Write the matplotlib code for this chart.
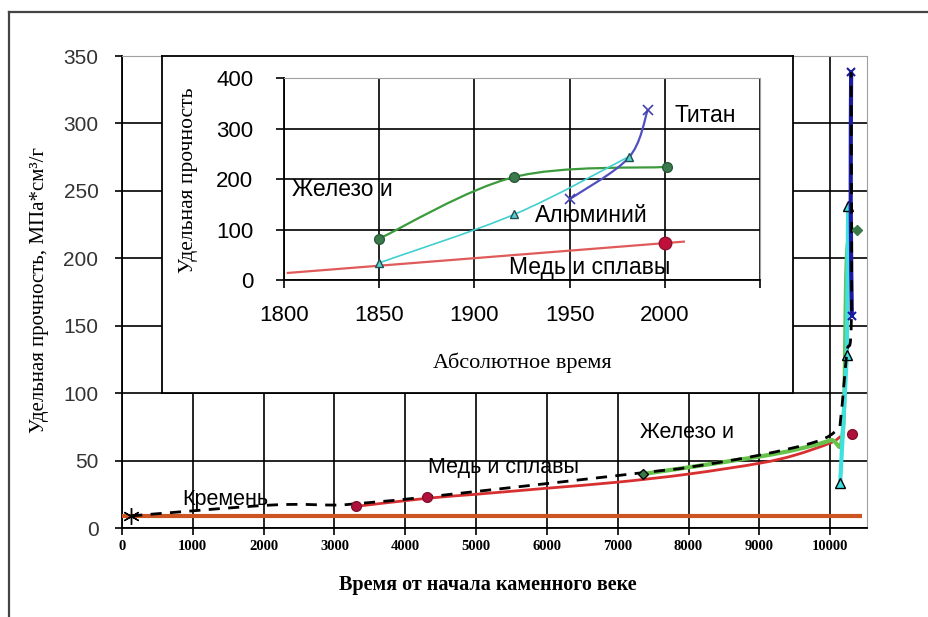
import numpy as np
import matplotlib.pyplot as plt
from matplotlib.path import Path
from matplotlib.patches import PathPatch
from matplotlib.lines import Line2D

# ---- main chart: years from the start of the stone age ----
flint_x = [0, 10450]
flint_y = [9, 9]

trend_x = [130, 2100, 3000, 3300, 4300, 7350, 8000, 9000, 9800, 10100, 10150, 10235, 10300, 10296]
trend_y = [9, 17, 17, 18, 23, 41, 45, 54, 64, 73, 82, 130, 157, 338]

copper_x = [3300, 4300, 5000, 6000, 7000, 8000, 9000, 9500, 10000, 10150]
copper_y = [16, 22, 25, 29.5, 34, 40, 48, 54, 63, 68]
copper_pts_x = [3300, 4300, 10306]
copper_pts_y = [16, 23, 70]

iron_x = [7350, 8000, 9000, 9500, 10000, 10180, 10240, 10381]
iron_y = [40, 45, 53, 58, 65, 72, 205, 221]

alu_x = [10141, 10235, 10254]
alu_y = [33, 128, 239]

ti_x = [10306, 10290, 10296]
ti_y = [157, 240, 338]

main_labels = [("Кремень", 847, 21), ("Медь и сплавы", 4322, 45), ("Железо и", 7316, 71)]

# ---- inset: absolute time ----
in_iron_x = [1850, 1921, 2001]
in_iron_y = [82, 204, 224]
in_alu_x = [1850, 1921, 1981]
in_alu_y = [34, 130, 244]
in_ti_x = [1950, 1981, 1991]
in_ti_y = [160, 242, 336]
in_cu_x = [1802, 2010]
in_cu_y = [14, 76]
in_cu_pt = (2000, 74)
inset_labels = [("Железо и", 1804, 180), ("Алюминий", 1932, 128),
                ("Медь и сплавы", 1918, 24), ("Титан", 2005, 326)]


def smooth(ax, xs, ys, **kw):
    # Excel-like smoothed line (Catmull-Rom as cubic bezier)
    p = np.column_stack([xs, ys]).astype(float)
    p = np.vstack([p[0], p, p[-1]])
    verts = [p[1]]
    codes = [Path.MOVETO]
    for i in range(1, len(p) - 2):
        c1 = p[i] + (p[i + 1] - p[i - 1]) / 6
        c2 = p[i + 1] - (p[i + 2] - p[i]) / 6
        verts += [c1, c2, p[i + 1]]
        codes += [Path.CURVE4] * 3
    ax.add_patch(PathPatch(Path(verts, codes), fill=False, **kw))


sans = 'Liberation Sans'
serif = 'Liberation Serif'

fig = plt.figure(figsize=(9.29, 6.17), dpi=100)

# outer frame (top and left edges visible)
fig.add_artist(Line2D([9 / 929, 1], [1 - 12 / 617] * 2, color='#444444', lw=1.6))
fig.add_artist(Line2D([9 / 929] * 2, [0, 1 - 12 / 617], color='#444444', lw=1.6))

ax = fig.add_axes([122 / 929, 1 - 528 / 617, (867 - 122) / 929, (528 - 56) / 617])
ax.set_xlim(0, 10520)
ax.set_ylim(0, 350)
ax.set_xticks(range(0, 10001, 1000))
ax.set_yticks(range(0, 351, 50))
ax.grid(True, color='black', lw=1.2)
ax.set_axisbelow(True)
for s in ['top', 'right']:
    ax.spines[s].set_color('#a0a0a0')
for s in ['left', 'bottom']:
    ax.spines[s].set_color('black')
    ax.spines[s].set_linewidth(1.3)
ax.tick_params(axis='y', direction='out', length=5, width=1.2, pad=12, labelsize=15, labelcolor='#333333')
ax.tick_params(axis='x', direction='out', length=5, width=1.2, pad=4)
for t in ax.get_yticklabels():
    t.set_family(sans)
for t in ax.get_xticklabels():
    t.set_family(serif)
    t.set_fontweight('bold')
    t.set_fontsize(10.5)

ax.plot(flint_x, flint_y, color='#cc5522', lw=3, solid_capstyle='butt', zorder=3)
smooth(ax, copper_x, copper_y, edgecolor='#d83030', lw=2, zorder=3)
smooth(ax, iron_x, iron_y, edgecolor='#66c24a', lw=3, zorder=3)
ax.plot(alu_x, alu_y, color='#3fe0e0', lw=3, marker='^', ms=7, mfc='#3fe0e0', mec='black', zorder=4)
smooth(ax, ti_x, ti_y, edgecolor='#1a1aa0', lw=3, zorder=4)
ax.plot([ti_x[0], ti_x[-1]], [ti_y[0], ti_y[-1]], ls='none', marker='x', ms=6, mec='#1a1aa0', mew=1.5, zorder=5)
smooth(ax, trend_x, trend_y, edgecolor='black', lw=2, linestyle=(0, (4, 3)), zorder=5)
ax.plot(trend_x[0], trend_y[0], marker=(6, 2, 0), ms=12, mec='black', mew=1, ls='none', zorder=5)
ax.plot(copper_pts_x, copper_pts_y, ls='none', marker='o', ms=7, mfc='#b0103a', mec='#801030', zorder=6)
ax.plot(iron_x[0], iron_y[0], marker='D', ms=5, mfc='#3a7a4a', mec='black', ls='none', zorder=6)
ax.plot(iron_x[-1], iron_y[-1], marker='D', ms=5, mfc='#3a7a4a', mec='#3a7a4a', ls='none', zorder=6)
for txt, x, y in main_labels:
    ax.text(x, y, txt, family=sans, fontsize=15.5, va='center', ha='left', zorder=7)

fig.text(40 / 929, 1 - 290 / 617, 'Удельная прочность, МПа*см³/г', rotation=90,
         family=serif, fontsize=15, ha='center', va='center')
fig.text(488 / 929, 1 - 585 / 617, 'Время от начала каменного веке',
         family=serif, fontsize=14.5, fontweight='bold', ha='center', va='center')

# inset chart area
box = fig.add_axes([162 / 929, 1 - 393 / 617, (793 - 162) / 929, (393 - 56) / 617])
box.set_xticks([])
box.set_yticks([])
for s in box.spines.values():
    s.set_color('black')
    s.set_linewidth(1.3)

ins = fig.add_axes([284 / 929, 1 - 280 / 617, 476 / 929, 202 / 617])
ins.set_xlim(1800, 2050)
ins.set_ylim(0, 400)
ins.set_xticks(range(1800, 2051, 50))
ins.set_xticklabels(['1800', '1850', '1900', '1950', '2000', ''])
ins.set_yticks(range(0, 401, 100))
ins.grid(True, color='black', lw=1.2)
ins.set_axisbelow(True)
for s in ['top', 'right']:
    ins.spines[s].set_color('#a0a0a0')
for s in ['left', 'bottom']:
    ins.spines[s].set_linewidth(1.3)
ins.tick_params(direction='out', length=6, width=1.2, labelsize=16)
ins.tick_params(axis='y', pad=16)
ins.tick_params(axis='x', pad=12)
for t in ins.get_xticklabels() + ins.get_yticklabels():
    t.set_family(sans)

ins.plot(in_cu_x, in_cu_y, color='#e05a5a', lw=1.6, zorder=3)
smooth(ins, in_iron_x, in_iron_y, edgecolor='#3c9a3c', lw=1.6, zorder=3)
ins.plot(in_iron_x, in_iron_y, ls='none', marker='o', ms=7, mfc='#3a7a4a', mec='#2a5a3a', zorder=5)
smooth(ins, in_alu_x, in_alu_y, edgecolor='#40d0d0', lw=1.2, zorder=3)
ins.plot(in_alu_x, in_alu_y, ls='none', marker='^', ms=6, mfc='#5fd0d0', mec='#205050', zorder=5)
smooth(ins, in_ti_x, in_ti_y, edgecolor='#5050c0', lw=1.6, zorder=4)
ins.plot([in_ti_x[0], in_ti_x[-1]], [in_ti_y[0], in_ti_y[-1]], ls='none', marker='x', ms=7,
         mec='#4040b0', mew=1.2, zorder=5)
ins.plot(*in_cu_pt, marker='o', ms=9, mfc='#c0103a', mec='#901030', zorder=5)
for txt, x, y in inset_labels:
    ins.text(x, y, txt, family=sans, fontsize=16.5, va='center', ha='left', zorder=7)

fig.text(188 / 929, 1 - 180 / 617, 'Удельная прочность', rotation=90,
         family=serif, fontsize=15.5, ha='center', va='center')
fig.text(522 / 929, 1 - 363 / 617, 'Абсолютное время',
         family=serif, fontsize=16, ha='center', va='center')

fig.savefig('out.png', dpi=100)
